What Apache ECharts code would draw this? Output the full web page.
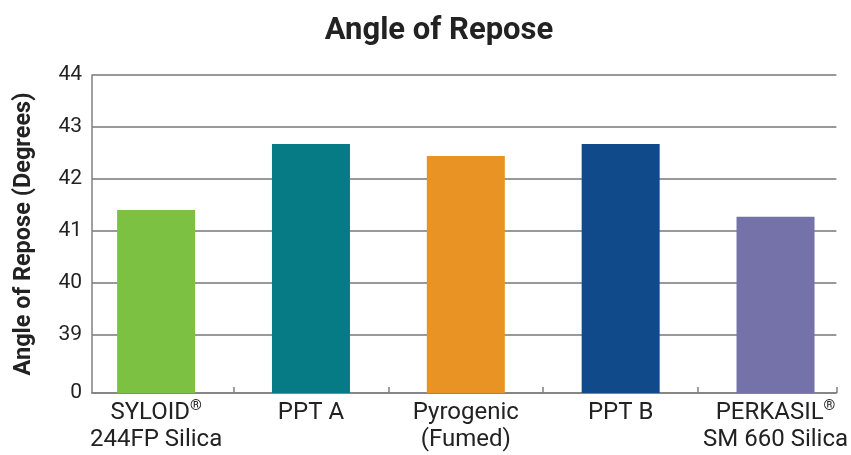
<!DOCTYPE html>
<html>
<head>
<meta charset="utf-8">
<script src="https://cdn.jsdelivr.net/npm/echarts@6/dist/echarts.min.js"></script>
<style>
html,body{margin:0;padding:0;background:#fff;}
#chart{width:851px;height:455px;}
</style>
</head>
<body>
<div id="chart"></div>
<script>
// categories and values
var categories = ['SYLOID{sup|®}\n244FP Silica', 'PPT A', 'Pyrogenic\n(Fumed)', 'PPT B', 'PERKASIL{sup|®}\nSM 660 Silica'];
var angles = [41.40, 42.67, 42.44, 42.67, 41.27];
var barColors = ['#7DC142', '#077B85', '#E89323', '#114A8B', '#7472A8'];
// broken axis: bottom tick is shown as "0"
var yTicks = [37.88, 39, 40, 41, 42, 43, 44];
var yTickLabels = ['0', '39', '40', '41', '42', '43', '44'];

function drawChart(){
	var myChart = echarts.init(document.getElementById('chart'));
	var barData = [];
	for (var i = 0; i < angles.length; i++) {
		barData.push({value: [i, angles[i]], itemStyle: {color: barColors[i]}});
	}
	var xMin = -0.414, xMax = 4.393;
	var option = {
		backgroundColor: '#fff',
		animation: false,
		title: {
			text: 'Angle of Repose',
			left: 434,
			textAlign: 'center',
			top: 11,
			textStyle: {fontFamily: 'Roboto', fontWeight: 'bold', fontSize: 31, color: '#222'}
		},
		grid: {left: 92, right: 12, top: 75, bottom: 62},
		xAxis: {
			type: 'value',
			min: xMin,
			max: xMax,
			splitLine: {show: false},
			axisLine: {show: true, onZero: false, lineStyle: {color: '#808080', width: 1.5}},
			axisTick: {
				show: true, inside: true, length: 6,
				customValues: [0.5, 1.5, 2.5, 3.5, xMax],
				lineStyle: {color: '#808080', width: 1.5}
			},
			axisLabel: {
				customValues: [0, 1, 2, 3, 4],
				margin: 6,
				fontFamily: 'Roboto',
				fontSize: 24,
				lineHeight: 27,
				color: '#222',
				formatter: function (v) { return categories[Math.round(v)]; },
				rich: {
					sup: {fontFamily: 'Roboto', fontSize: 15, color: '#222', verticalAlign: 'top', lineHeight: 27, padding: [0, 0, 8, 0]}
				}
			}
		},
		yAxis: {
			type: 'value',
			min: 37.88,
			max: 44,
			name: 'Angle of Repose (Degrees)',
			nameLocation: 'middle',
			nameGap: 56,
			nameTextStyle: {fontFamily: 'Roboto', fontWeight: 'bold', fontSize: 23.5, color: '#222'},
			axisLine: {show: true, onZero: false, lineStyle: {color: '#808080', width: 1.5}},
			axisTick: {show: false, customValues: yTicks},
			splitLine: {show: true, lineStyle: {color: '#777', width: 1.5}},
			axisLabel: {
				customValues: yTicks,
				margin: 10,
				fontFamily: 'Roboto',
				fontSize: 21,
				color: '#222',
				formatter: function (v) {
					for (var k = 0; k < yTicks.length; k++) {
						if (Math.abs(yTicks[k] - v) < 0.001) return yTickLabels[k];
					}
					return '';
				}
			}
		},
		series: [{
			type: 'bar',
			barWidth: 78,
			data: barData
		}]
	};
	myChart.setOption(option);
}
drawChart();
</script>
</body>
</html>
